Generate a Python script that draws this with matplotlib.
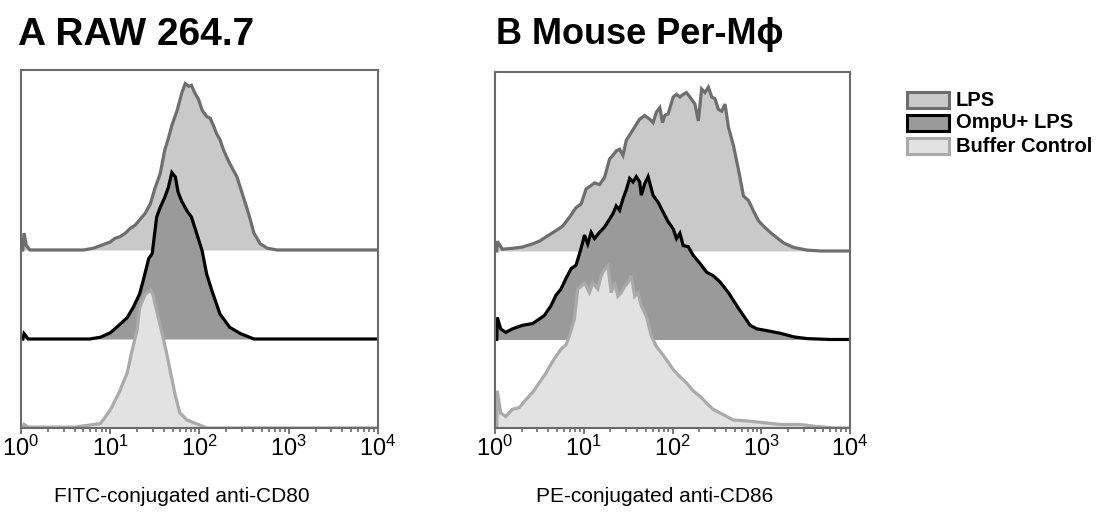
import numpy as np
import matplotlib
matplotlib.use("Agg")
import matplotlib.pyplot as plt
from matplotlib.patches import Rectangle
from matplotlib.ticker import LogLocator, NullFormatter

plt.rcParams["font.family"] = ["Liberation Sans", "DejaVu Sans"]

# ---- data: log10(intensity), height in row units ----
# Panel A (RAW 264.7, anti-CD80)
a_lps_log = [0.02, 0.034, 0.06, 0.10, 0.70, 0.81, 0.92, 1.00, 1.05, 1.11, 1.17, 1.22, 1.28, 1.33,
             1.39, 1.45, 1.50, 1.56, 1.61, 1.65, 1.69, 1.75, 1.80, 1.84, 1.88, 1.91, 1.95, 1.99,
             2.03, 2.08, 2.12, 2.16, 2.19, 2.23, 2.27, 2.34, 2.42, 2.49, 2.55, 2.61, 2.68, 2.76,
             2.87, 4.0]
a_lps_h = [0.0, 0.19, 0.05, 0.0, 0.0, 0.02, 0.06, 0.09, 0.13, 0.15, 0.19, 0.24, 0.28, 0.34,
           0.41, 0.52, 0.69, 0.86, 1.12, 1.25, 1.40, 1.57, 1.76, 1.87, 1.84, 1.85, 1.76, 1.69,
           1.57, 1.50, 1.48, 1.39, 1.31, 1.24, 1.12, 0.97, 0.82, 0.60, 0.41, 0.19, 0.07, 0.02,
           0.0, 0.0]

a_omp_log = [0.02, 0.034, 0.08, 0.77, 0.89, 1.00, 1.07, 1.19, 1.26, 1.33, 1.37, 1.43, 1.47, 1.52,
             1.56, 1.61, 1.65, 1.69, 1.73, 1.76, 1.80, 1.86, 1.91, 1.97, 2.03, 2.08, 2.14, 2.23,
             2.34, 2.46, 2.61, 4.0]
a_omp_h = [0.0, 0.06, 0.0, 0.0, 0.02, 0.07, 0.13, 0.24, 0.36, 0.51, 0.66, 0.90, 0.96, 1.37,
           1.48, 1.59, 1.70, 1.87, 1.82, 1.65, 1.55, 1.44, 1.37, 1.18, 0.99, 0.73, 0.54, 0.28,
           0.13, 0.06, 0.0, 0.0]

a_buf_log = [0.02, 0.034, 0.08, 0.60, 0.89, 1.00, 1.10, 1.19, 1.24, 1.30, 1.33, 1.39, 1.45, 1.48,
             1.50, 1.56, 1.63, 1.67, 1.73, 1.78, 1.86, 2.01, 2.08, 4.0]
a_buf_h = [0.0, 0.04, 0.01, 0.01, 0.05, 0.20, 0.40, 0.62, 0.85, 1.10, 1.35, 1.50, 1.55, 1.50,
           1.40, 1.15, 0.85, 0.65, 0.36, 0.17, 0.09, 0.03, 0.0, 0.0]

# Panel B (mouse peritoneal macrophages, anti-CD86)
b_lps_log = [0.02, 0.026, 0.083, 0.196, 0.309, 0.423, 0.498, 0.592, 0.687, 0.762, 0.838, 0.913,
             0.970, 1.026, 1.083, 1.121, 1.177, 1.234, 1.291, 1.328, 1.366, 1.404, 1.442, 1.479,
             1.536, 1.592, 1.630, 1.687, 1.743, 1.781, 1.819, 1.857, 1.887, 1.913, 1.951, 2.008,
             2.045, 2.083, 2.121, 2.158, 2.196, 2.253, 2.291, 2.328, 2.366, 2.404, 2.442, 2.479,
             2.517, 2.555, 2.592, 2.630, 2.687, 2.743, 2.800, 2.857, 2.913, 2.970, 3.026, 3.102,
             3.177, 3.253, 3.366, 3.517, 3.668, 4.0]
b_lps_h = [0.0, 0.11, 0.02, 0.03, 0.045, 0.08, 0.11, 0.17, 0.23, 0.28, 0.38, 0.49,
           0.53, 0.70, 0.74, 0.77, 0.75, 0.83, 1.04, 1.08, 1.13, 1.15, 1.08, 1.25,
           1.34, 1.43, 1.49, 1.53, 1.49, 1.45, 1.57, 1.62, 1.45, 1.53, 1.55, 1.74,
           1.77, 1.74, 1.77, 1.79, 1.74, 1.66, 1.47, 1.83, 1.79, 1.85, 1.74, 1.72,
           1.60, 1.58, 1.66, 1.40, 1.19, 0.92, 0.62, 0.57, 0.45, 0.34, 0.28, 0.21,
           0.15, 0.09, 0.04, 0.01, 0.0, 0.0]

b_omp_log = [0.02, 0.026, 0.064, 0.121, 0.196, 0.309, 0.423, 0.498, 0.555, 0.630, 0.687, 0.743,
             0.800, 0.857, 0.913, 0.970, 1.008, 1.045, 1.083, 1.121, 1.177, 1.234, 1.291, 1.328,
             1.366, 1.404, 1.442, 1.479, 1.517, 1.555, 1.592, 1.630, 1.649, 1.687, 1.725, 1.781,
             1.838, 1.894, 1.951, 2.008, 2.045, 2.083, 2.121, 2.177, 2.234, 2.309, 2.385, 2.460,
             2.536, 2.630, 2.725, 2.800, 2.875, 2.951, 3.064, 3.215, 3.366, 3.517, 3.781, 4.0]
b_omp_h = [0.0, 0.25, 0.12, 0.08, 0.12, 0.16, 0.18, 0.23, 0.27, 0.38, 0.50, 0.57,
           0.69, 0.80, 0.84, 1.03, 1.18, 1.08, 1.21, 1.14, 1.21, 1.27, 1.36, 1.42,
           1.51, 1.46, 1.59, 1.69, 1.82, 1.78, 1.84, 1.78, 1.63, 1.76, 1.84, 1.63,
           1.55, 1.44, 1.33, 1.25, 1.14, 1.20, 1.06, 1.05, 0.95, 0.86, 0.76, 0.72,
           0.65, 0.53, 0.38, 0.27, 0.16, 0.12, 0.10, 0.07, 0.03, 0.01, 0.0, 0.0]

b_buf_log = [0.02, 0.026, 0.064, 0.121, 0.196, 0.272, 0.347, 0.423, 0.498, 0.574, 0.630, 0.687,
             0.743, 0.800, 0.838, 0.894, 0.932, 0.970, 1.008, 1.064, 1.102, 1.158, 1.196, 1.234,
             1.272, 1.309, 1.347, 1.385, 1.423, 1.460, 1.498, 1.536, 1.574, 1.611, 1.649, 1.706,
             1.762, 1.819, 1.875, 1.932, 2.008, 2.083, 2.158, 2.234, 2.309, 2.385, 2.460, 2.536,
             2.687, 2.838, 3.026, 3.215, 3.442, 3.592, 3.819, 4.0]
b_buf_h = [0.0, 0.42, 0.17, 0.13, 0.21, 0.23, 0.32, 0.40, 0.51, 0.62, 0.72, 0.81,
           0.89, 0.94, 1.04, 1.23, 1.57, 1.60, 1.64, 1.53, 1.64, 1.57, 1.72, 1.79,
           1.83, 1.53, 1.64, 1.49, 1.53, 1.60, 1.64, 1.72, 1.49, 1.53, 1.38, 1.26,
           1.04, 0.92, 0.85, 0.77, 0.66, 0.58, 0.51, 0.42, 0.36, 0.28, 0.21, 0.17,
           0.09, 0.08, 0.06, 0.04, 0.04, 0.02, 0.0, 0.0]

labels = ["LPS", "OmpU+ LPS", "Buffer Control"]
offsets = [2, 1, 0]
fills = ["#c9c9c9", "#9a9a9a", "#e2e2e2"]
edges = ["#6e6e6e", "#000000", "#aaaaaa"]

W, H = 1103, 518
fig = plt.figure(figsize=(W / 100, H / 100), dpi=100)


def px_axes(left, top, right, bottom):
    return fig.add_axes([left / W, (H - bottom) / H, (right - left) / W, (bottom - top) / H])


def draw_panel(ax, curves, xlabel):
    for i, (lg, h) in enumerate(curves):
        x = 10 ** np.array(lg)
        y = offsets[i] + np.array(h)
        ax.fill_between(x, offsets[i], y, color=fills[i], lw=0, zorder=2 + 2 * i)
        ax.plot(x, y, color=edges[i], lw=2.3, zorder=3 + 2 * i, solid_joinstyle="miter")
    ax.set_xscale("log")
    ax.set_xlim(1, 1e4)
    ax.set_ylim(0, (428 - 70) / 89)
    ax.set_yticks([])
    for s in ax.spines.values():
        s.set_color("#6a6a6a")
        s.set_linewidth(1.5)
        s.set_zorder(10)
    ax.xaxis.set_major_locator(LogLocator(base=10, numticks=10))
    ax.xaxis.set_minor_locator(LogLocator(base=10, subs=np.arange(2, 10), numticks=10))
    ax.xaxis.set_minor_formatter(NullFormatter())
    ax.tick_params(axis="x", which="major", direction="out", length=4.5, width=1.3,
                   color="#6a6a6a", labelsize=17, pad=1)
    ax.tick_params(axis="x", which="minor", direction="out", length=3, width=1.2,
                   color="#6a6a6a")
    ax.set_xlabel(xlabel, fontsize=15)
    ax.xaxis.set_label_coords(0.45, -0.165)


axA = px_axes(21, 70, 378, 428)
draw_panel(axA, [(a_lps_log, a_lps_h), (a_omp_log, a_omp_h), (a_buf_log, a_buf_h)],
           "FITC-conjugated anti-CD80")
axB = px_axes(495, 72, 850, 428)
draw_panel(axB, [(b_lps_log, b_lps_h), (b_omp_log, b_omp_h), (b_buf_log, b_buf_h)],
           "PE-conjugated anti-CD86")

fig.text(18 / W, 1 - 35 / H, "A RAW 264.7", fontsize=28, fontweight="bold",
         va="center", ha="left")
fig.text(496 / W, 1 - 35 / H, "B Mouse Per-M\u03d5", fontsize=26, fontweight="bold",
         va="center", ha="left")

# legend
leg_y = [100, 123, 146]
for i, lab in enumerate(labels):
    r = Rectangle((907 / W, 1 - (leg_y[i] + 8) / H), 42 / W, 16 / H, transform=fig.transFigure,
                  facecolor=fills[i], edgecolor=edges[i], lw=2.2)
    fig.add_artist(r)
    fig.text(956 / W, 1 - leg_y[i] / H, lab, fontsize=14.5, fontweight="bold",
             va="center", ha="left")

fig.savefig("out.png", dpi=100)
